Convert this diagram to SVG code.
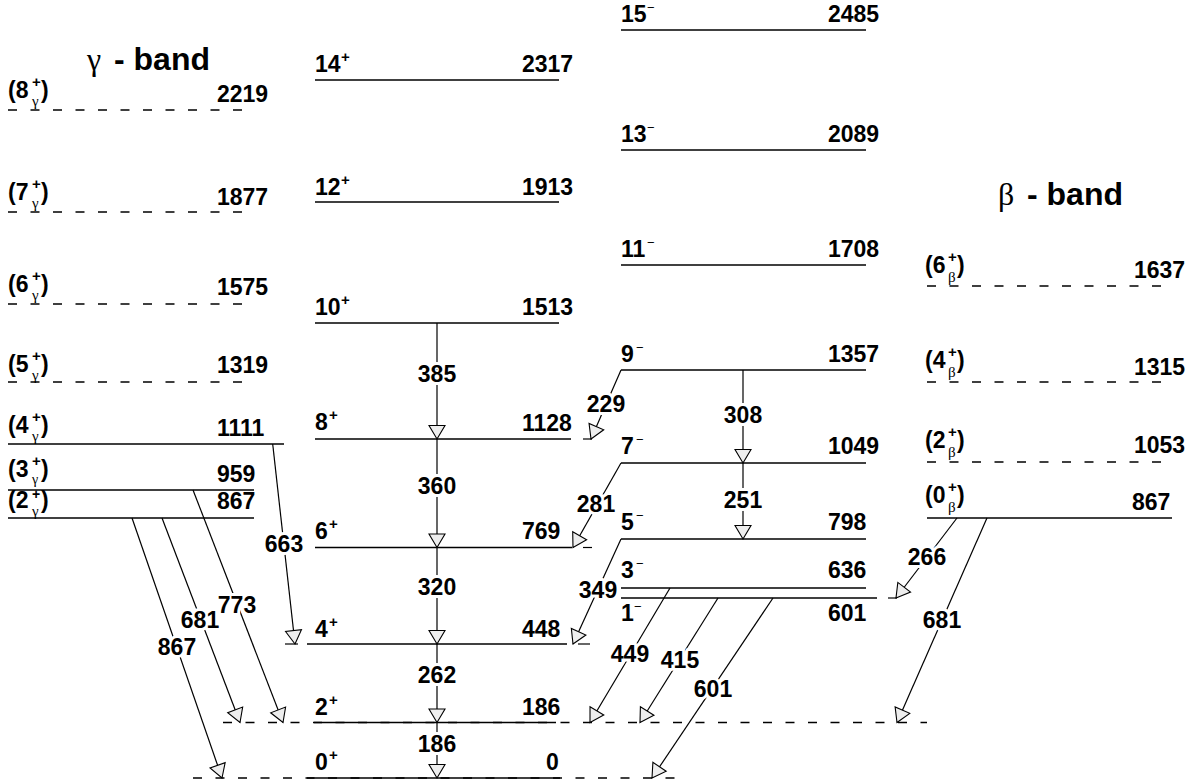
<svg xmlns="http://www.w3.org/2000/svg" width="1199" height="784" viewBox="0 0 1199 784">
<style>
text{font-family:"Liberation Sans",Arial,sans-serif;font-weight:bold;font-size:23px;fill:#000}
.sup{font-size:15px}
.sub{font-family:"Liberation Serif","DejaVu Serif",serif;font-weight:normal;font-size:15px}
.mn{font-family:"Liberation Sans",Arial,sans-serif;font-weight:normal;font-size:13px}
.ttl{font-size:32px}
.gk{font-family:"Liberation Serif","DejaVu Serif",serif;font-weight:normal;font-size:32px}
.lv{stroke:#000;stroke-width:1.4;fill:none}
.ds{stroke:#000;stroke-width:1.4;fill:none;stroke-dasharray:9 13.5}
.tr{stroke:#000;stroke-width:1.2;fill:none;marker-end:url(#ah)}
.stub{stroke:#000;stroke-width:1.2}
.lb{text-anchor:middle;stroke:#fff;stroke-width:6;paint-order:stroke;stroke-linejoin:round}
</style>
<defs>
<marker id="ah" markerUnits="userSpaceOnUse" markerWidth="20" markerHeight="20" viewBox="-15 -10 17 20" refX="0" refY="0" orient="auto">
<path d="M0,0 L-13.5,-8 L-13.5,8 Z" fill="#eeeeee" stroke="#000" stroke-width="1.1"/>
</marker>
</defs>
<rect width="1199" height="784" fill="#fff"/>

<text x="87" y="70" class="gk">γ</text><text x="114" y="70" class="ttl">- band</text>
<text x="998" y="205" class="gk">β</text><text x="1027" y="205" class="ttl">- band</text>

<!-- gamma band -->
<g id="g8"><line class="ds" x1="8" y1="110" x2="248" y2="110"/><text x="8" y="98">(8</text><text x="32" y="87" class="sup">+</text><text x="32" y="106" class="sub">γ</text><text x="41" y="98">)</text><text x="217" y="102">2219</text></g>
<g id="g7"><line class="ds" x1="8" y1="212" x2="248" y2="212"/><text x="8" y="200">(7</text><text x="32" y="189" class="sup">+</text><text x="32" y="208" class="sub">γ</text><text x="41" y="200">)</text><text x="217" y="205">1877</text></g>
<g id="g6"><line class="ds" x1="8" y1="304" x2="248" y2="304"/><text x="8" y="292">(6</text><text x="32" y="281" class="sup">+</text><text x="32" y="300" class="sub">γ</text><text x="41" y="292">)</text><text x="217" y="295">1575</text></g>
<g id="g5"><line class="ds" x1="8" y1="382" x2="248" y2="382"/><text x="8" y="372">(5</text><text x="32" y="361" class="sup">+</text><text x="32" y="380" class="sub">γ</text><text x="41" y="372">)</text><text x="217" y="373">1319</text></g>
<g id="g4"><line class="lv" x1="8" y1="444" x2="284" y2="444"/><text x="8" y="433">(4</text><text x="32" y="422" class="sup">+</text><text x="32" y="441" class="sub">γ</text><text x="41" y="433">)</text><text x="217" y="436">1111</text></g>
<g id="g3"><line class="lv" x1="8" y1="490" x2="254" y2="490"/><text x="8" y="477">(3</text><text x="32" y="466" class="sup">+</text><text x="32" y="484" class="sub" style="font-size:14px">γ</text><text x="41" y="477">)</text><text x="217" y="482">959</text></g>
<g id="g2"><line class="lv" x1="8" y1="518" x2="254" y2="518"/><text x="8" y="508">(2</text><text x="32" y="499" class="sup" style="font-size:14px">+</text><text x="32" y="516" class="sub">γ</text><text x="41" y="508">)</text><text x="217" y="509">867</text></g>

<!-- ground band -->
<g id="gs14"><line class="lv" x1="315" y1="80" x2="559" y2="80"/><text x="315" y="72">14</text><text x="341" y="62" class="sup">+</text><text x="522" y="72">2317</text></g>
<g id="gs12"><line class="lv" x1="315" y1="202" x2="559" y2="202"/><text x="315" y="195">12</text><text x="341" y="185" class="sup">+</text><text x="522" y="195">1913</text></g>
<g id="gs10"><line class="lv" x1="315" y1="323" x2="559" y2="323"/><text x="315" y="315">10</text><text x="341" y="305" class="sup">+</text><text x="522" y="315">1513</text></g>
<g id="gs8"><line class="lv" x1="315" y1="439" x2="571" y2="439"/><text x="315" y="430">8</text><text x="329" y="420" class="sup">+</text><text x="522" y="431">1128</text></g>
<g id="gs6"><line class="lv" x1="315" y1="547.5" x2="572" y2="547.5"/><text x="315" y="539">6</text><text x="329" y="529" class="sup">+</text><text x="522" y="539">769</text></g>
<g id="gs4"><line class="lv" x1="307" y1="644" x2="567" y2="644"/><text x="315" y="637">4</text><text x="329" y="627" class="sup">+</text><text x="522" y="637">448</text></g>
<g id="gs2"><line class="ds" x1="223" y1="722.5" x2="927" y2="722.5"/><line class="lv" x1="314" y1="722.5" x2="556" y2="722.5"/><text x="315" y="715">2</text><text x="329" y="705" class="sup">+</text><text x="522" y="715">186</text></g>
<g id="gs0"><line class="ds" x1="193" y1="778" x2="680" y2="778"/><line class="lv" x1="307" y1="778" x2="560" y2="778"/><text x="315" y="770">0</text><text x="329" y="760" class="sup">+</text><text x="546" y="770">0</text></g>

<!-- negative parity band -->
<g id="n15"><line class="lv" x1="621" y1="30" x2="866" y2="30"/><text x="621" y="22">15</text><text x="647" y="12" class="mn">−</text><text x="828" y="22">2485</text></g>
<g id="n13"><line class="lv" x1="621" y1="150" x2="866" y2="150"/><text x="621" y="142">13</text><text x="647" y="132" class="mn">−</text><text x="828" y="142">2089</text></g>
<g id="n11"><line class="lv" x1="621" y1="265" x2="866" y2="265"/><text x="621" y="257">11</text><text x="647" y="247" class="mn">−</text><text x="828" y="257">1708</text></g>
<g id="n9"><line class="lv" x1="621" y1="370" x2="866" y2="370"/><text x="621" y="362">9</text><text x="636" y="352" class="mn">−</text><text x="828" y="362">1357</text></g>
<g id="n7"><line class="lv" x1="621" y1="463" x2="866" y2="463"/><text x="621" y="454">7</text><text x="636" y="444" class="mn">−</text><text x="828" y="454">1049</text></g>
<g id="n5"><line class="lv" x1="621" y1="539" x2="866" y2="539"/><text x="621" y="530">5</text><text x="636" y="520" class="mn">−</text><text x="828" y="530">798</text></g>
<g id="n3"><line class="lv" x1="621" y1="588" x2="866" y2="588"/><text x="621" y="578">3</text><text x="636" y="568" class="mn">−</text><text x="828" y="578">636</text></g>
<g id="n1"><line class="lv" x1="621" y1="598" x2="877" y2="598"/><text x="621" y="621">1</text><text x="634" y="611" class="mn">−</text><text x="828" y="621">601</text></g>

<!-- beta band -->
<g id="b6"><line class="ds" x1="927" y1="286" x2="1166" y2="286"/><text x="925" y="273">(6</text><text x="948" y="262" class="sup">+</text><text x="948" y="282" class="sub">β</text><text x="957" y="273">)</text><text x="1134" y="278">1637</text></g>
<g id="b4"><line class="ds" x1="927" y1="382" x2="1166" y2="382"/><text x="925" y="368">(4</text><text x="948" y="357" class="sup">+</text><text x="948" y="377" class="sub">β</text><text x="957" y="368">)</text><text x="1134" y="375">1315</text></g>
<g id="b2"><line class="ds" x1="927" y1="462" x2="1166" y2="462"/><text x="925" y="448">(2</text><text x="948" y="437" class="sup">+</text><text x="948" y="457" class="sub">β</text><text x="957" y="448">)</text><text x="1134" y="453">1053</text></g>
<g id="b0"><line class="lv" x1="927" y1="518" x2="1172" y2="518"/><text x="925" y="503">(0</text><text x="948" y="492" class="sup">+</text><text x="948" y="512" class="sub">β</text><text x="957" y="503">)</text><text x="1132" y="510">867</text></g>

<!-- transitions -->
<g id="connectors">
<line class="stub" x1="285" y1="644" x2="298" y2="644"/>
<line class="stub" x1="578" y1="644" x2="590" y2="644"/>
<line class="stub" x1="583" y1="439" x2="592" y2="439"/>
<line class="stub" x1="583" y1="547.5" x2="592" y2="547.5"/>
<line class="stub" x1="888" y1="598" x2="897" y2="598"/>
<line class="tr" x1="437" y1="323" x2="437" y2="439"/>
<line class="tr" x1="437" y1="439" x2="437" y2="547.5"/>
<line class="tr" x1="437" y1="547.5" x2="437" y2="644"/>
<line class="tr" x1="437" y1="644" x2="437" y2="722.5"/>
<line class="tr" x1="437" y1="722.5" x2="437" y2="778"/>
<line class="tr" x1="743" y1="370" x2="743" y2="463"/>
<line class="tr" x1="743" y1="463" x2="743" y2="539"/>
<line class="tr" x1="621" y1="370" x2="591" y2="439"/>
<line class="tr" x1="621" y1="463" x2="573" y2="547.5"/>
<line class="tr" x1="621" y1="539" x2="573" y2="644"/>
<line class="tr" x1="670" y1="588" x2="590" y2="722.5"/>
<line class="tr" x1="718" y1="598" x2="640" y2="722.5"/>
<line class="tr" x1="773" y1="598" x2="652" y2="778"/>
<line class="tr" x1="272.7" y1="444" x2="295" y2="644"/>
<line class="tr" x1="193" y1="490" x2="283" y2="722.5"/>
<line class="tr" x1="162" y1="518" x2="240" y2="722.5"/>
<line class="tr" x1="132" y1="518" x2="222" y2="778"/>
<line class="tr" x1="957" y1="518" x2="896" y2="598"/>
<line class="tr" x1="987" y1="518" x2="897" y2="722.5"/>
<text class="lb" x="437" y="382">385</text>
<text class="lb" x="437" y="494">360</text>
<text class="lb" x="437" y="595">320</text>
<text class="lb" x="437" y="683">262</text>
<text class="lb" x="437" y="752">186</text>
<text class="lb" x="743" y="423">308</text>
<text class="lb" x="743" y="508">251</text>
<text class="lb" x="606" y="412">229</text>
<text class="lb" x="596" y="512">281</text>
<text class="lb" x="598" y="598">349</text>
<text class="lb" x="630" y="662">449</text>
<text class="lb" x="680" y="668">415</text>
<text class="lb" x="713" y="697">601</text>
<text class="lb" x="284" y="552">663</text>
<text class="lb" x="237" y="613">773</text>
<text class="lb" x="200" y="628">681</text>
<text class="lb" x="177" y="655">867</text>
<text class="lb" x="927" y="565">266</text>
<text class="lb" x="942" y="628">681</text>
</g>
</svg>
